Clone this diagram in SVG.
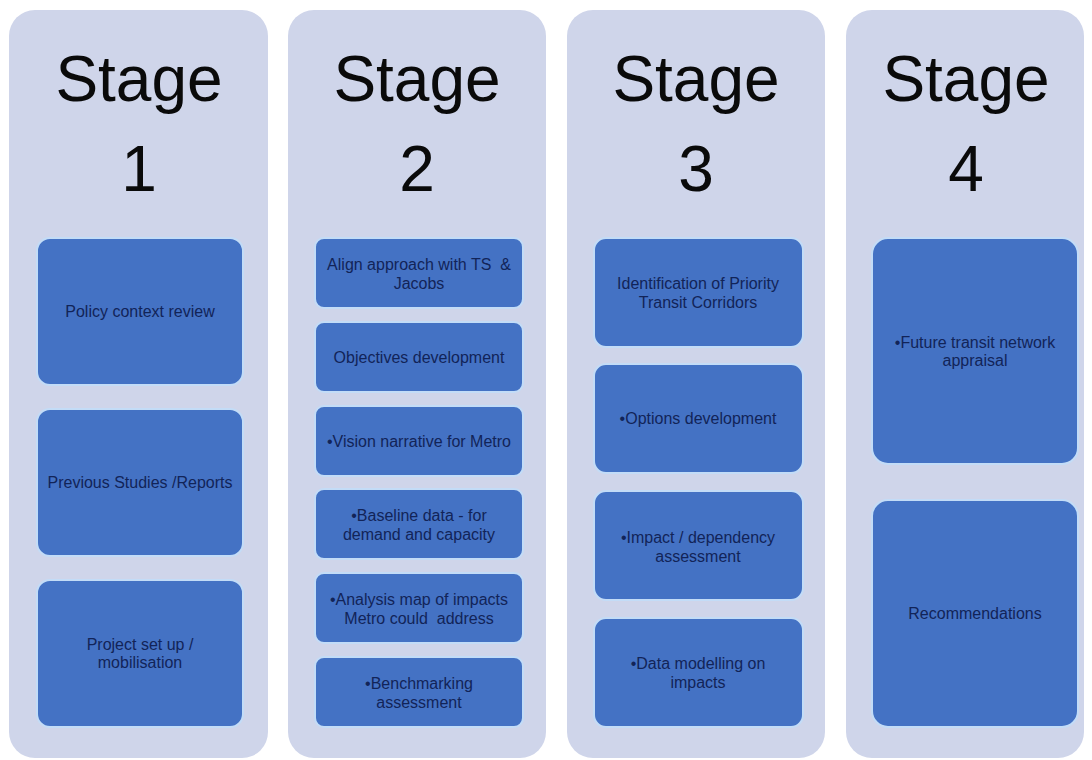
<svg xmlns="http://www.w3.org/2000/svg" width="1092" height="760" viewBox="0 0 1092 760">
<style>
.col{fill:#CFD5EA;}
.box{fill:#4472C4;stroke:#C3DCF7;stroke-width:2;}
.st{font-family:"Liberation Sans",Arial,sans-serif;font-size:64px;fill:#0A0A0A;text-anchor:middle;}
.t{font-family:"Liberation Sans",Arial,sans-serif;font-size:16px;fill:#122458;text-anchor:middle;white-space:pre;}
</style>
<rect width="1092" height="760" fill="#FFFFFF"/>
<g id="stage1">
<rect class="col" x="9" y="10" width="259" height="748" rx="26"/>
<text class="st" x="139" y="101">Stage</text>
<text class="st" x="139" y="191">1</text>
</g>
<g id="stage2">
<rect class="col" x="288" y="10" width="258" height="748" rx="26"/>
<text class="st" x="417" y="101">Stage</text>
<text class="st" x="417" y="191">2</text>
</g>
<g id="stage3">
<rect class="col" x="567" y="10" width="258" height="748" rx="26"/>
<text class="st" x="696" y="101">Stage</text>
<text class="st" x="696" y="191">3</text>
</g>
<g id="stage4">
<rect class="col" x="846" y="10" width="238" height="748" rx="26"/>
<text class="st" x="966" y="101">Stage</text>
<text class="st" x="966" y="191">4</text>
</g>
<g id="s1-policy">
<rect class="box" x="37" y="238" width="206" height="147" rx="13"/>
<text class="t" x="140" y="317">Policy context review</text>
</g>
<g id="s1-previous">
<rect class="box" x="37" y="409" width="206" height="147" rx="13"/>
<text class="t" x="140" y="488">Previous Studies /Reports</text>
</g>
<g id="s1-project">
<rect class="box" x="37" y="580" width="206" height="147" rx="13"/>
<text class="t" x="140" y="650">Project set up /</text>
<text class="t" x="140" y="668">mobilisation</text>
</g>
<g id="s2-align">
<rect class="box" x="315" y="238" width="208" height="70" rx="9"/>
<text class="t" x="419" y="270" xml:space="preserve">Align approach with TS  &amp;</text>
<text class="t" x="419" y="289">Jacobs</text>
</g>
<g id="s2-objectives">
<rect class="box" x="315" y="322" width="208" height="70" rx="9"/>
<text class="t" x="419" y="363">Objectives development</text>
</g>
<g id="s2-vision">
<rect class="box" x="315" y="406" width="208" height="70" rx="9"/>
<text class="t" x="419" y="447">•Vision narrative for Metro</text>
</g>
<g id="s2-baseline">
<rect class="box" x="315" y="489" width="208" height="70" rx="9"/>
<text class="t" x="419" y="521">•Baseline data - for</text>
<text class="t" x="419" y="540">demand and capacity</text>
</g>
<g id="s2-analysis">
<rect class="box" x="315" y="573" width="208" height="70" rx="9"/>
<text class="t" x="419" y="605">•Analysis map of impacts</text>
<text class="t" x="419" y="624" xml:space="preserve">Metro could  address</text>
</g>
<g id="s2-benchmarking">
<rect class="box" x="315" y="657" width="208" height="70" rx="9"/>
<text class="t" x="419" y="689">•Benchmarking</text>
<text class="t" x="419" y="708">assessment</text>
</g>
<g id="s3-identification">
<rect class="box" x="594" y="238" width="209" height="109" rx="12"/>
<text class="t" x="698" y="289">Identification of Priority</text>
<text class="t" x="698" y="308">Transit Corridors</text>
</g>
<g id="s3-options">
<rect class="box" x="594" y="364" width="209" height="109" rx="12"/>
<text class="t" x="698" y="424">•Options development</text>
</g>
<g id="s3-impact">
<rect class="box" x="594" y="491" width="209" height="109" rx="12"/>
<text class="t" x="698" y="543">•Impact / dependency</text>
<text class="t" x="698" y="562">assessment</text>
</g>
<g id="s3-data">
<rect class="box" x="594" y="618" width="209" height="109" rx="12"/>
<text class="t" x="698" y="669">•Data modelling on</text>
<text class="t" x="698" y="688">impacts</text>
</g>
<g id="s4-future">
<rect class="box" x="872" y="238" width="206" height="226" rx="16"/>
<text class="t" x="975" y="348">•Future transit network</text>
<text class="t" x="975" y="366">appraisal</text>
</g>
<g id="s4-recommendations">
<rect class="box" x="872" y="500" width="206" height="227" rx="16"/>
<text class="t" x="975" y="619">Recommendations</text>
</g>
<g id="connectors"></g>
</svg>
